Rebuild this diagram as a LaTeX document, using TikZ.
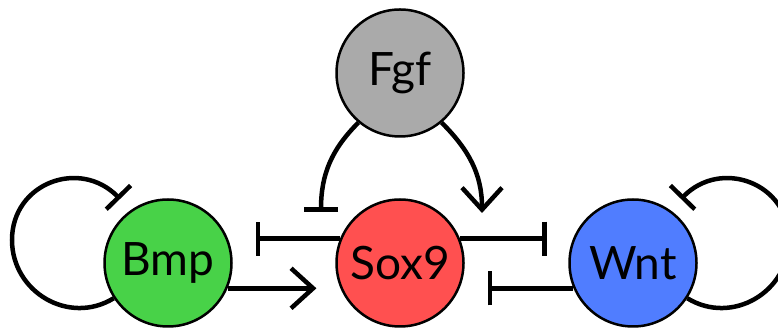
\documentclass[tikz,border=0pt]{standalone}
\usepackage{fontspec}
\setmainfont{Lato}
\usetikzlibrary{arrows.meta}
\definecolor{fgfc}{RGB}{170,170,170}
\definecolor{bmpc}{RGB}{72,210,72}
\definecolor{soxc}{RGB}{255,80,80}
\definecolor{wntc}{RGB}{80,125,255}
\begin{document}
\begin{tikzpicture}[x=1pt,y=1pt,
  gene/.style={circle, draw=black, line width=2.5pt, minimum size=127pt, inner sep=0pt, font=\fontsize{46}{46}\selectfont},
  link/.style={line width=4.5pt},
  inh/.style={link, -{Bar[width=34pt]}},
  act/.style={link, -{Straight Barb[length=22pt, width=40pt]}},
]
\useasboundingbox (0,0) rectangle (778,328);
\clip (0,0) rectangle (778,328);
\node[gene, fill=fgfc] (Fgf) at (400,255) {Fgf};
\node[gene, fill=bmpc] (Bmp) at (168,65) {Bmp};
\node[gene, fill=soxc] (Sox9) at (400,65) {Sox9};
\node[gene, fill=wntc] (Wnt) at (633,65) {Wnt};
% horizontal links
\draw[inh] (Sox9.158) -- ([xshift=27.5pt]Bmp.22);
\draw[act] (Bmp.-23) -- ([xshift=-24pt]Sox9.203);
\draw[inh] (Sox9.22) -- ([xshift=-26pt]Wnt.158);
\draw[inh] (Wnt.203) -- ([xshift=28pt]Sox9.-23);
% Fgf links
\draw[inh] (Fgf.230) to[out=225, in=90] ([shift={(-79pt,51pt)}]Sox9.center);
\draw[act] (Fgf.310) to[out=-45, in=90] ([shift={(82pt,50pt)}]Sox9.center);
% self loops
\draw[inh] (Bmp.213) .. controls (69,2.3) and (12,36) .. (12,88)
  .. controls (12,145) and (80,170) .. ([shift={(-48pt,64pt)}]Bmp.center);
\draw[inh] (Wnt.-33) .. controls (732,2.3) and (789,36) .. (789,88)
  .. controls (789,145) and (721,170) .. ([shift={(48pt,64pt)}]Wnt.center);
\end{tikzpicture}
\end{document}
